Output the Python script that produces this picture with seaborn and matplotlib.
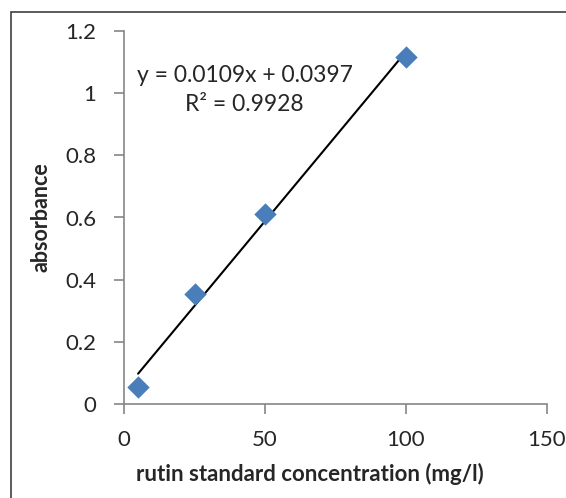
import matplotlib
matplotlib.use('Agg')
import matplotlib.pyplot as plt
import seaborn as sns
import pandas as pd
from matplotlib.patches import Rectangle

## Data
concentration = [5, 25, 50, 100]
absorbance = [0.055, 0.355, 0.61, 1.115]
equation = 'y = 0.0109x + 0.0397'
r_squared = 'R² = 0.9928'

df = pd.DataFrame({'conc': concentration, 'abs': absorbance})

sns.set_style('white')
plt.rcParams['font.family'] = ['Lato', 'DejaVu Sans']

fig = plt.figure(figsize=(5.66, 4.98), dpi=100)
ax = fig.add_axes([124/566, 1 - 404/498, 423/566, 373/498])

# trendline, then the points on top
sns.regplot(x='conc', y='abs', data=df, scatter=False, ci=None, truncate=True,
            line_kws={'color': 'black', 'linewidth': 1.5}, ax=ax)
sns.scatterplot(x='conc', y='abs', data=df, marker='D', s=130, color='#4A7EBB',
                edgecolor='#4A7EBB', linewidth=0, zorder=3, ax=ax)

ax.set_xlim(0, 150)
ax.set_ylim(0, 1.2)
ax.set_xticks([0, 50, 100, 150])
ax.set_xticklabels(['0', '50', '100', '150'])
ax.set_yticks([0, 0.2, 0.4, 0.6, 0.8, 1.0, 1.2])
ax.set_yticklabels(['0', '0.2', '0.4', '0.6', '0.8', '1', '1.2'])

for s in ['top', 'right']:
    ax.spines[s].set_visible(False)
for s in ['left', 'bottom']:
    ax.spines[s].set_color('#868686')
    ax.spines[s].set_linewidth(1.2)
ax.tick_params(axis='both', direction='out', length=7, width=1.2, color='#868686',
               labelsize=16, left=True, bottom=True)
ax.tick_params(axis='x', pad=12)
ax.tick_params(axis='y', pad=13)

ax.set_xlabel('rutin standard concentration (mg/l)', fontsize=16, fontweight='bold')
ax.xaxis.set_label_coords((310 - 124) / 423, -(463 - 404) / 373)
ax.set_ylabel('absorbance', fontsize=15.5, fontweight='bold', labelpad=10)

ax.text(0.285, 0.842, equation + '\n' + r_squared, transform=ax.transAxes, ha='center',
        va='center', fontsize=16.5, linespacing=1.45)

# outer chart border
fig.patches.append(Rectangle((11/566, -0.1), 1.2, 1 - 12/498 + 0.1, transform=fig.transFigure,
                             fill=False, edgecolor='#404040', linewidth=1.2))

fig.savefig('out.png', dpi=100)
